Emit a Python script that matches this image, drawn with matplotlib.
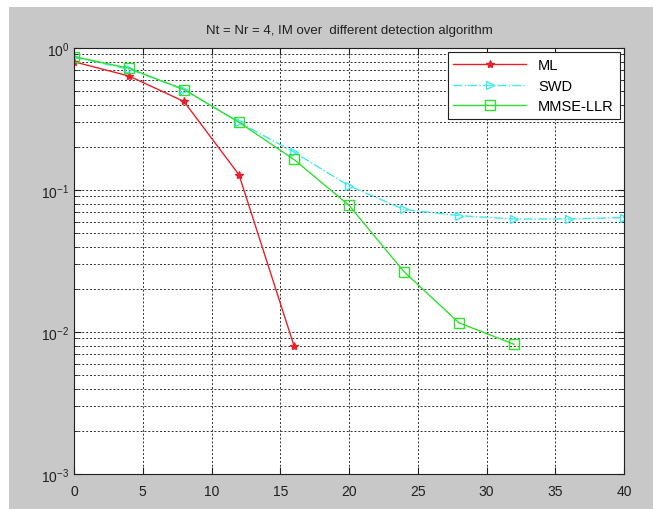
#!/usr/bin/env python3
'''BER of IM detectors, Nt = Nr = 4'''
import matplotlib.pyplot as plt
from matplotlib.patches import Rectangle
from matplotlib.ticker import LogLocator, NullFormatter

plt.rcParams['font.family'] = ['Liberation Sans', 'DejaVu Sans']

snr_ml = [0, 4, 8, 12, 16]
ber_ml = [0.80, 0.635, 0.42, 0.128, 0.008]

snr_swd = [0, 4, 8, 12, 16, 20, 24, 28, 32, 36, 40]
ber_swd = [0.86, 0.71, 0.51, 0.30, 0.185, 0.107, 0.073, 0.066, 0.0625, 0.0625, 0.064]

snr_mmse = [0, 4, 8, 12, 16, 20, 24, 28, 32]
ber_mmse = [0.87, 0.72, 0.51, 0.30, 0.164, 0.078, 0.0266, 0.0116, 0.0082]

fig = plt.figure(figsize=(6.53, 5.10), dpi=100)
fig.patch.set_facecolor('white')
# matlab grey panel
fig.patches.append(Rectangle((9 / 653, 0), 1, 1 - 8 / 510, transform=fig.transFigure,
                             facecolor='#c8c8c8', edgecolor='none', zorder=-10))
ax = fig.add_axes([74 / 653, 1 - 475 / 510, 550 / 653, 426 / 510])
ax.set_facecolor('white')

ax.semilogy(snr_ml, ber_ml, '-', color='#e8202a', marker='*', markersize=6,
            linewidth=1, label='ML')
ax.semilogy(snr_swd, ber_swd, '-.', color='#40e8f0', marker='>', markersize=6,
            markerfacecolor='none', linewidth=1, label='SWD')
ax.semilogy(snr_mmse, ber_mmse, '-', color='#30e030', marker='s', markersize=7,
            markerfacecolor='none', linewidth=1, label='MMSE-LLR')

ax.set_xlim(0, 40)
ax.set_ylim(1e-3, 1)
ax.set_xticks(range(0, 41, 5))
ax.yaxis.set_major_locator(LogLocator(base=10))
ax.yaxis.set_minor_locator(LogLocator(base=10, subs=range(2, 10)))
ax.yaxis.set_minor_formatter(NullFormatter())
ax.tick_params(which='both', direction='in', top=True, right=True,
               labelsize=10, colors='#202020')
ax.tick_params(axis='x', pad=7)
ax.tick_params(which='major', length=5)
ax.tick_params(which='minor', length=3)
ax.grid(True, which='both', color='#303030', linestyle=(0, (2, 2)), linewidth=0.7)
for sp in ax.spines.values():
    sp.set_color('#202020')

ax.set_title('Nt = Nr = 4, IM over  different detection algorithm', fontsize=9.5,
             color='#202020', pad=11)
leg = ax.legend(loc='upper right', fontsize=10.5, fancybox=False, framealpha=1,
                edgecolor='#202020', borderaxespad=0.3, handlelength=5,
                labelspacing=0.45)
leg.get_frame().set_linewidth(0.8)

fig.savefig('out.png', dpi=100)
